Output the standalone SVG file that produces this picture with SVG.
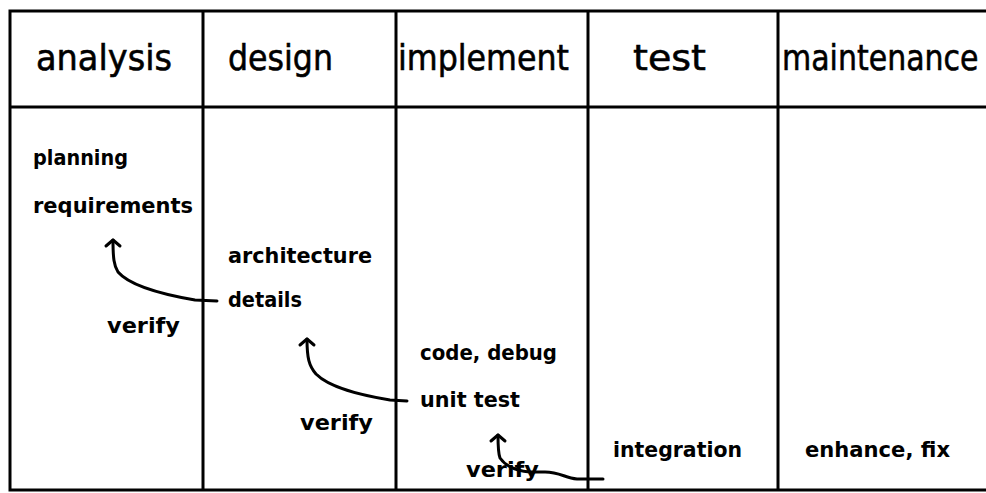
<svg xmlns="http://www.w3.org/2000/svg" width="986" height="493" viewBox="0 0 986 493">
<style>
  .frame { fill: none; stroke: #000; stroke-width: 3; }
  .head { font-family: "DejaVu Sans", "Liberation Sans", sans-serif; font-size: 36px; fill: #000; stroke: #000; stroke-width: 0.6; }
  .item { font-family: "DejaVu Sans", "Liberation Sans", sans-serif; font-size: 22px; font-weight: bold; fill: #000; }
  .conn { fill: none; stroke: #000; stroke-width: 3; stroke-linecap: round; stroke-linejoin: round; }
</style>
<defs>
  <marker id="chev" markerUnits="userSpaceOnUse" viewBox="-10 -10 20 20" markerWidth="20" markerHeight="20" refX="0" refY="0" orient="auto" overflow="visible">
    <path d="M-6,-7 L0,0 L-6,7" fill="none" stroke="#000" stroke-width="3" stroke-linecap="round" stroke-linejoin="round"/>
  </marker>
</defs>
<rect width="986" height="493" fill="#fff"/>
<g id="grid">
  <path class="frame" d="M990,11 L10,11 L10,490 L990,490"/>
  <line class="frame" x1="10" y1="107" x2="990" y2="107"/>
  <line class="frame" x1="203" y1="11" x2="203" y2="490"/>
  <line class="frame" x1="396" y1="11" x2="396" y2="490"/>
  <line class="frame" x1="588" y1="11" x2="588" y2="490"/>
  <line class="frame" x1="778" y1="11" x2="778" y2="490"/>
</g>
<g id="h-analysis"><text class="head" x="36" y="70" textLength="136" lengthAdjust="spacingAndGlyphs">analysis</text></g>
<g id="h-design"><text class="head" x="228" y="70" textLength="105" lengthAdjust="spacingAndGlyphs">design</text></g>
<g id="h-implement"><text class="head" x="398" y="70" textLength="171" lengthAdjust="spacingAndGlyphs">implement</text></g>
<g id="h-test"><text class="head" x="633" y="70" textLength="73" lengthAdjust="spacingAndGlyphs">test</text></g>
<g id="h-maintenance"><text class="head" transform="translate(782,70) scale(1,1.2)" x="0" y="0" style="font-size:30px;stroke-width:0.5">maintenance</text></g>

<g id="planning"><text class="item" x="33" y="165" textLength="95" lengthAdjust="spacingAndGlyphs">planning</text></g>
<g id="requirements"><text class="item" x="33" y="213" textLength="160" lengthAdjust="spacingAndGlyphs">requirements</text></g>
<g id="verify1"><text class="item" x="107" y="333" textLength="73" lengthAdjust="spacingAndGlyphs">verify</text></g>
<g id="architecture"><text class="item" x="228" y="263" textLength="144" lengthAdjust="spacingAndGlyphs">architecture</text></g>
<g id="details"><text class="item" x="228" y="307" textLength="74" lengthAdjust="spacingAndGlyphs">details</text></g>
<g id="verify2"><text class="item" x="300" y="430" textLength="73" lengthAdjust="spacingAndGlyphs">verify</text></g>
<g id="code-debug"><text class="item" x="420" y="360" textLength="137" lengthAdjust="spacingAndGlyphs">code, debug</text></g>
<g id="unit-test"><text class="item" x="420" y="407" textLength="100" lengthAdjust="spacingAndGlyphs">unit test</text></g>
<g id="verify3"><text class="item" x="466" y="477" textLength="73" lengthAdjust="spacingAndGlyphs">verify</text></g>
<g id="integration"><text class="item" x="613" y="457" textLength="129" lengthAdjust="spacingAndGlyphs">integration</text></g>
<g id="enhance-fix"><text class="item" x="805" y="457" textLength="145" lengthAdjust="spacingAndGlyphs">enhance, fix</text></g>

<g id="connectors">
  <path class="conn" marker-end="url(#chev)" d="M217,301 L195,300 C160,294 130,286 118,272 C114,266 113,258 113,240"/>
  <path class="conn" marker-end="url(#chev)" d="M407,401 L390,400 C360,395 330,388 316,374 C309,366 307,358 307,339"/>
  <path class="conn" marker-end="url(#chev)" d="M603,479 L577,479 C565,478 560,472 545,472 L530,472 C515,471 505,465 500,458 C498,453 498,446 498,435"/>
</g>
</svg>
